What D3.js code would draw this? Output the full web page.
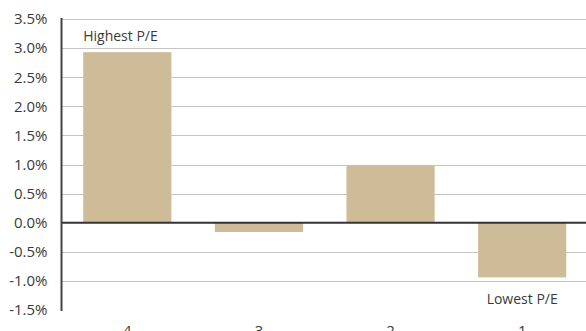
<!DOCTYPE html>
<html>
<head>
<meta charset="utf-8">
<script src="https://cdn.jsdelivr.net/npm/d3@7"></script>
<style>
  html, body { margin: 0; padding: 0; background: #fff; }
  svg { display: block; font-family: "Open Sans", "Noto Sans", sans-serif; }
</style>
</head>
<body>
<svg id="chart" width="586" height="331"></svg>
<script>
// Quartile return spreads, highest P/E (4) to lowest P/E (1)
const categories = ["4", "3", "2", "1"];
const values = [2.93, -0.16, 0.99, -0.94];
const yTicks = [3.5, 3.0, 2.5, 2.0, 1.5, 1.0, 0.5, 0.0, -0.5, -1.0, -1.5];

const svg = d3.select("#chart");
const plotLeft = 61.5, plotRight = 588, plotTop = 19, plotBottom = 310;

const x = d3.scaleBand().domain(categories).range([plotLeft, plotRight]).paddingInner(0.33).paddingOuter(0.165);
const y = d3.scaleLinear().domain([-1.5, 3.5]).range([plotBottom, plotTop]);

// gridlines
svg.append("g")
  .selectAll("line")
  .data(yTicks.filter(d => d !== 0 && d !== -1.5))
  .join("line")
  .attr("x1", plotLeft).attr("x2", 586)
  .attr("y1", d => Math.round(y(d)) + 0.5).attr("y2", d => Math.round(y(d)) + 0.5)
  .attr("stroke", "#c4c4c4").attr("stroke-width", 1);

// y axis labels
const yAxis = svg.append("g")
  .attr("transform", `translate(${plotLeft},0)`)
  .call(d3.axisLeft(y).tickValues(yTicks).tickSize(0).tickPadding(14)
    .tickFormat(d => d.toFixed(1) + "%"));
yAxis.select(".domain").remove();
yAxis.selectAll("text").attr("font-size", 15).attr("fill", "#3a3a3a")
  .attr("font-family", "'Open Sans', 'Noto Sans', sans-serif");

// bars
svg.append("g")
  .selectAll("rect")
  .data(values)
  .join("rect")
  .attr("x", (d, i) => x(categories[i]))
  .attr("width", x.bandwidth())
  .attr("y", d => y(Math.max(0, d)))
  .attr("height", d => Math.abs(y(d) - y(0)))
  .attr("fill", "#cebc99");

// zero line and left axis line
svg.append("line")
  .attr("x1", plotLeft).attr("x2", 586)
  .attr("y1", y(0)).attr("y2", y(0))
  .attr("stroke", "#333").attr("stroke-width", 2);
svg.append("line")
  .attr("x1", plotLeft).attr("x2", plotLeft)
  .attr("y1", plotTop - 1).attr("y2", plotBottom + 1)
  .attr("stroke", "#444").attr("stroke-width", 2);

// x category labels
const xAxis = svg.append("g")
  .attr("transform", `translate(0,${plotBottom})`)
  .call(d3.axisBottom(x).tickSize(0).tickPadding(15));
xAxis.select(".domain").remove();
xAxis.selectAll("text").attr("font-size", 15).attr("fill", "#3a3a3a")
  .attr("font-family", "'Open Sans', 'Noto Sans', sans-serif");

// annotations
svg.append("text")
  .attr("x", x("4")).attr("y", 41)
  .attr("font-size", 14).attr("fill", "#3a3a3a")
  .text("Highest P/E");
svg.append("text")
  .attr("x", x("1") + x.bandwidth() / 2).attr("y", 304)
  .attr("text-anchor", "middle")
  .attr("font-size", 14).attr("fill", "#3a3a3a")
  .text("Lowest P/E");
</script>
</body>
</html>
